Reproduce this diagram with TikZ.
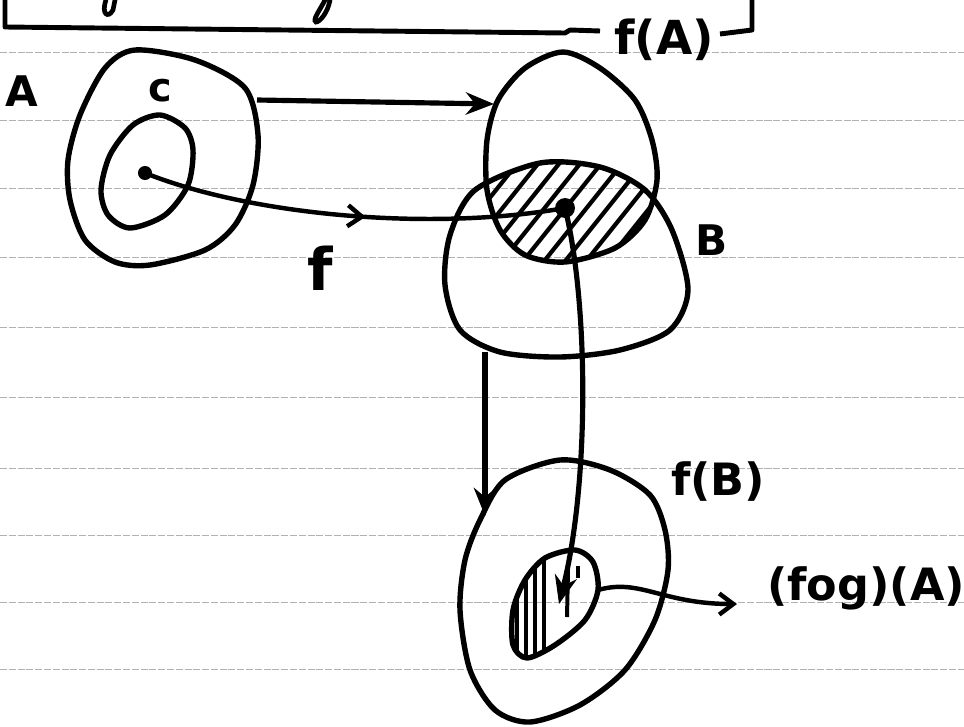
\documentclass[tikz,border=0pt]{standalone}
\usepackage{fontspec}
\setmainfont{DejaVu Sans}
\usetikzlibrary{arrows.meta,decorations.markings}
\begin{document}
\begin{tikzpicture}[x=0.03cm,y=-0.03cm,
  blob/.style={line width=4.6pt,line join=round},
  ruled/.style={gray!60,line width=0.8pt,dash pattern=on 6pt off 1.5pt},
  conn/.style={line width=4.4pt,-{Stealth[length=24pt,width=19pt]}},
  hatchline/.style={line width=3.6pt,line cap=round},
  lbl/.style={font=\fontsize{40}{48}\selectfont\bfseries,inner sep=0pt},
  slbl/.style={font=\fontsize{36}{44}\selectfont\bfseries,inner sep=0pt}]
\useasboundingbox (0,0) rectangle (964,726);
\fill[white] (0,0) rectangle (964,726);
% ruled paper
\foreach \yy in {52,120,188,257,327,397,468,535,602,669}
  \draw[ruled] (0,\yy) -- (964,\yy);
% coordinates for connectors
\coordinate (Aright) at (257,100);
\coordinate (fAleft) at (494,104);
\coordinate (dotA) at (145,173);
\coordinate (fAB) at (565,208);
\coordinate (Bbottom) at (485,352);
\coordinate (fBtop) at (485,516);
\coordinate (fogpt) at (559,604);
\coordinate (fogR) at (598,590);
\coordinate (fogtip) at (737,604);
% top bracket (cut off)
\draw[line width=4.2pt,line join=round] (5,0) -- (5,27) -- (565,33) -- (570,30) -- (600,31);
\draw[line width=4.2pt,line join=round] (720,34) -- (752,30) -- (752,0);
\node[lbl] (lfA) at (664,40) {f(A)};
\draw[line width=4pt,line cap=round] (106,0) .. controls (101,14) and (108,19) .. (113,10) -- (115,0);
\draw[line width=4pt,line cap=round] (325,0) .. controls (320,10) and (312,20) .. (316,22) .. controls (320,22) and (328,12) .. (330,0);
% set A and C
\draw[blob] plot[smooth cycle] coordinates {(135,50) (195,60) (245,88) (258,135) (253,185) (235,225) (205,250) (150,265) (115,262) (85,240) (70,200) (68,160) (80,115) (105,68)};
\draw[blob] plot[smooth cycle] coordinates {(160,115) (185,128) (193,150) (188,185) (165,215) (130,228) (108,215) (101,190) (110,155) (133,125)};
\node[slbl] (lA) at (22,91) {A};
\node[lbl,font=\fontsize{34}{40}\selectfont\bfseries] (lC) at (160,91) {c};
\fill (dotA) circle (6pt);
% hatched intersection f(A) and B
\begin{scope}
  \clip plot[smooth cycle] coordinates {(563,52) (600,68) (635,100) (652,140) (657,180) (645,220) (615,248) (565,262) (525,255) (500,230) (487,190) (487,140) (498,100) (525,68)};
  \clip plot[smooth cycle] coordinates {(540,163) (600,167) (645,190) (672,230) (688,290) (670,330) (620,350) (560,357) (500,352) (460,330) (445,285) (450,235) (475,190)};
  \foreach \k in {0,...,12}
    \draw[hatchline] ({395+21*\k},290) -- ++(120,-150);
\end{scope}
% f(A)
\draw[blob] plot[smooth cycle] coordinates {(563,52) (600,68) (635,100) (652,140) (657,180) (645,220) (615,248) (565,262) (525,255) (500,230) (487,190) (487,140) (498,100) (525,68)};
% B
\draw[blob] plot[smooth cycle] coordinates {(540,163) (600,167) (645,190) (672,230) (688,290) (670,330) (620,350) (560,357) (500,352) (460,330) (445,285) (450,235) (475,190)};
\node[slbl] (lB) at (712,240) {B};
\fill (fAB) circle (8.5pt);
% f(B)
\draw[blob] plot[smooth cycle] coordinates {(560,460) (610,470) (650,495) (665,530) (668,570) (655,620) (625,670) (580,705) (530,722) (495,710) (470,670) (460,610) (465,560) (480,520) (505,480)};
\node[lbl,font=\fontsize{38}{44}\selectfont\bfseries] (lfB) at (718,482) {f(B)};
% (fog)(A)
\begin{scope}
  \clip plot[smooth cycle] coordinates {(575,550) (593,562) (598,590) (585,620) (555,645) (527,658) (513,645) (513,610) (525,580) (545,558)};
  \foreach \xx in {517,526,535,544}
    \draw[hatchline] (\xx,560) -- (\xx,660);
\end{scope}
\draw[blob] plot[smooth cycle] coordinates {(575,550) (593,562) (598,590) (585,620) (555,645) (527,658) (513,645) (513,610) (525,580) (545,558)};
\draw[line width=3.4pt] (568,570) -- (567,617);
\draw[line width=3.4pt] (578,566) -- (578,578);
\node[lbl,font=\fontsize{38}{46}\selectfont\bfseries] (lfog) at (866,588) {(fog)(A)};
% connectors
\draw[conn] (Aright) -- (fAleft);
\draw[line width=3.8pt,postaction={decorate},
  decoration={markings,mark=at position 0.53 with {\arrow{Straight Barb[length=12pt,width=18pt,line width=3.8pt]}}}]
  (dotA) .. controls (250,215) and (430,232) .. (fAB);
\node[lbl,font=\fontsize{50}{56}\selectfont\bfseries] (lf) at (320,268) {f};
\draw[conn] (fAB) .. controls (588,300) and (590,480) .. (fogpt);
\draw[conn] (Bbottom) -- (fBtop);
\draw[line width=3.8pt,-{Straight Barb[length=12pt,width=18pt,line width=3.8pt]}] (fogR) .. controls (640,578) and (662,604) .. (fogtip);
\end{tikzpicture}
\end{document}
